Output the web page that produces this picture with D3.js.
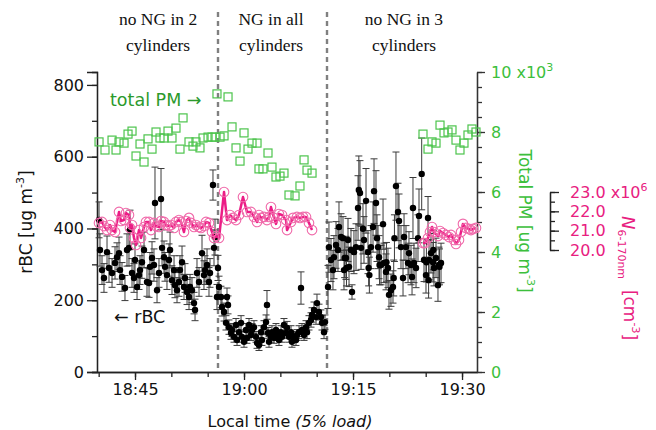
<!DOCTYPE html>
<html>
<head>
<meta charset="utf-8">
<script src="https://cdn.jsdelivr.net/npm/d3@7"></script>
<style>
  body { margin: 0; background: #fff; }
  svg { display: block; }
</style>
</head>
<body>
<svg id="chart" width="656" height="430"></svg>
<script>
// all times are minutes after 18:00 local time

// total PM, x10^3 ug m-3 (right axis)
var pmTime = [40.05, 40.87, 41.84, 42.39, 42.80, 43.49, 44.04, 44.59, 45.14, 45.69, 46.24, 46.79, 47.34, 47.89,
  48.44, 48.99, 49.54, 50.09, 50.64, 51.19, 51.61, 52.43, 52.98, 53.39, 53.94, 54.36, 55.05, 55.60, 56.01, 56.28,
  56.70, 57.25, 57.80, 58.35, 58.90, 59.45, 60.00, 60.55, 61.10, 61.79, 62.06, 62.61, 63.30, 63.85, 64.40, 64.95,
  65.50, 66.19, 67.02, 67.70, 68.26, 68.67, 69.36,
  84.63, 85.32, 85.87, 86.42, 86.97, 87.52, 88.07, 88.62, 89.17, 89.72, 90.27, 90.82, 91.37, 91.92];
var pmValue = [7.67, 7.40, 7.73, 7.40, 7.67, 7.63, 7.93, 8.03, 7.20, 7.60, 7.00, 7.77, 7.43, 8.00,
  7.80, 7.80, 8.03, 7.80, 8.13, 7.43, 8.47, 7.67, 7.53, 7.67, 7.47, 7.80, 7.83, 7.83, 7.83, 9.27,
  7.83, 7.87, 9.17, 8.17, 7.47, 7.03, 7.97, 7.43, 7.63, 7.63, 6.77, 6.77, 7.30, 6.83, 6.50, 6.53,
  6.63, 5.90, 5.87, 6.20, 7.07, 6.73, 6.63,
  7.93, 7.43, 7.67, 7.63, 8.23, 7.97, 8.00, 8.07, 7.73, 7.40, 7.63, 7.90, 8.10, 8.00];

// N 6-170nm, x10^6 cm-3 (null = no data)
var nTime = [40.05, 40.46, 40.73, 41.15, 41.56, 41.84, 42.25, 42.80, 43.07, 43.49, 43.76, 44.17, 44.31, 44.59,
  44.86, 45.14, 45.55, 45.83, 46.24, 46.51, 46.93, 47.20, 47.61, 47.89, 48.30, 48.58, 48.99, 49.27, 49.68, 49.95,
  50.37, 50.64, 51.05, 51.33, 51.74, 52.02, 52.43, 52.71, 53.12, 53.39, 53.81, 54.08, 54.49, 54.77, 55.18, 55.60,
  55.87, 56.15, 56.56,
  57.25, 57.66, 58.07, 58.49, 58.90, 59.31, 59.86, 60.41, 60.96, 61.37, 61.79, 62.06, 62.34, 62.75, 63.16, 63.44,
  63.71, 64.13, 64.40, 64.81, 65.23, 65.78, 65.92, 66.47, 66.74, 67.29, 67.70, 68.12, 68.53, 68.94, 69.36,
  77.0,
  84.63, 84.90, 85.32, 85.59, 85.87, 86.14, 86.69, 86.97, 87.38, 87.79, 88.21, 88.48, 88.89, 89.17, 89.58, 89.86,
  90.13, 90.55, 90.96, 91.23, 91.51, 91.92];
var nValue = [21.40, 21.45, 21.24, 21.03, 21.29, 21.03, 20.93, 21.97, 21.50, 21.55, 21.91, 21.81, 21.14, 21.29,
  20.62, 20.26, 21.03, 20.62, 21.19, 21.45, 21.45, 21.03, 21.40, 21.24, 21.19, 21.50, 21.45, 21.29, 21.24, 21.29,
  21.14, 21.45, 21.55, 21.45, 20.93, 21.50, 21.66, 21.40, 21.19, 21.29, 21.19, 21.14, 21.24, 21.45, 21.40, 20.93,
  20.62, 20.72, 20.62,
  23.00, 21.55, 21.81, 21.66, 21.55, 21.81, 22.74, 21.97, 21.97, 21.71, 21.45, 21.81, 21.66, 21.71, 21.55, 21.71,
  22.22, 21.66, 21.35, 21.86, 21.81, 21.55, 21.03, 21.45, 21.66, 21.71, 21.66, 21.71, 21.71, 21.40, 21.03,
  null,
  20.36, 20.36, 20.62, 20.93, 21.19, 20.93, 20.72, 20.98, 20.88, 20.78, 20.67, 20.78, 20.52, 20.31, 20.52, 20.93,
  21.35, 21.14, 21.09, 21.03, 21.09, 21.14];

// rBC, ug m-3 (left axis) with error
var rbcTime = [40.05, 40.18, 40.46, 40.73, 41.15, 41.42, 41.84, 42.25, 42.52, 42.80, 42.94, 43.21, 43.62, 43.90,
  44.17, 44.31, 44.59, 44.86, 45.00, 45.28, 45.55, 45.69, 45.96, 46.24, 46.65, 46.93, 47.06, 47.34, 47.61, 47.75,
  48.03, 48.30, 48.58, 48.72, 48.99, 49.13, 49.40, 49.68, 49.82, 50.09, 50.37, 50.50, 50.78, 51.05, 51.19, 51.47,
  51.74, 51.88, 52.16, 52.43, 52.57, 52.84, 53.12, 53.26, 53.53, 53.81, 54.22, 54.49, 54.63, 54.91, 55.18, 55.32,
  55.73, 55.87, 56.01, 56.28,
  56.42, 56.56, 56.83, 56.97, 57.25, 57.52, 57.66, 57.80, 57.93, 58.21, 58.35, 58.62, 58.90, 59.04, 59.31, 59.59,
  59.72, 60.00, 60.27, 60.41, 60.69, 60.96, 61.10, 61.37, 61.65, 61.79, 62.06, 62.34, 62.47, 62.75, 63.03, 63.16,
  63.30, 63.44, 63.71, 63.85, 64.13, 64.40, 64.54, 64.81, 65.09, 65.23, 65.50, 65.78, 65.92, 66.19, 66.47, 66.60,
  66.88, 67.15, 67.29, 67.57, 67.84, 67.98, 68.26, 68.53, 68.67, 68.94, 69.22, 69.36, 69.63, 69.91, 70.04, 70.32,
  70.59, 70.73, 71.01, 71.14,
  71.56, 71.69, 71.97, 72.24, 72.38, 72.66, 72.93, 73.07, 73.35, 73.62, 73.76, 73.85, 74.03, 74.10, 74.31, 74.45,
  74.72, 74.86, 75.13, 75.41, 75.69, 75.80, 75.96, 76.10, 76.37, 76.51, 76.79, 77.06, 77.15, 77.25, 77.47, 77.75,
  77.89, 78.16, 78.30, 78.44, 78.58, 78.65, 78.85, 79.13, 79.26, 79.54, 79.60, 79.81, 79.95, 80.22, 80.50, 80.60,
  80.70, 80.91, 81.19, 81.33, 81.60, 81.88, 82.02, 82.29, 82.57, 82.70, 82.98, 83.12, 83.25, 83.39, 83.67, 83.94,
  84.08, 84.45, 84.77, 85.04, 85.10, 85.32, 85.40, 85.46, 85.73, 86.01, 86.05, 86.14, 86.42, 86.69, 86.83, 86.90,
  87.11];
var rbcValue = [424, 340, 284, 262, 334, 290, 276, 304, 320, 331, 284, 265, 234, 340,
  346, 396, 276, 262, 312, 237, 270, 284, 306, 340, 251, 248, 293, 318, 298, 471,
  228, 276, 482, 346, 320, 293, 270, 312, 340, 256, 284, 242, 228, 251, 284, 306,
  237, 262, 223, 209, 237, 228, 192, 173, 276, 251, 331, 270, 284, 298, 251, 276,
  521, 346, 376, 209,
  290, 237, 209, 181, 167, 137, 209, 187, 125, 109, 117, 98, 131, 89, 111, 137,
  98, 84, 117, 95, 131, 103, 117, 125, 98, 81, 75, 111, 89, 125, 139, 187,
  109, 84, 98, 111, 95, 117, 103, 89, 111, 98, 131, 109, 123, 98, 111, 84,
  98, 89, 103, 111, 234, 117, 103, 125, 111, 137, 145, 159, 173, 153, 192, 167,
  153, 137, 111, 139,
  237, 348, 312, 284, 320, 354, 340, 404, 376, 373, 284, 318, 318, 290, 368, 293,
  340, 223, 334, 348, 457, 507, 499, 346, 399, 368, 477, 334, 290, 270, 348, 404,
  504, 471, 373, 348, 320, 298, 298, 412, 304, 279, 306, 290, 215, 228, 237, 262,
  373, 518, 446, 421, 348, 262, 376, 348, 304, 331, 298, 265, 457, 304, 290, 373,
  435, 552, 312, 270, 306, 429, 256, 312, 331, 306, 340, 290, 318, 242, 298, 293,
  304];
var rbcErr = [50, 45, 40, 40, 45, 40, 40, 45, 40, 45, 40, 40, 35, 45,
  50, 55, 40, 40, 45, 35, 40, 40, 45, 50, 40, 40, 40, 45, 45, 100,
  35, 40, 85, 50, 45, 40, 40, 45, 50, 40, 40, 35, 35, 40, 40, 45,
  35, 40, 35, 35, 35, 35, 30, 30, 40, 40, 50, 40, 40, 45, 40, 40,
  42, 50, 50, 35,
  35, 30, 30, 25, 25, 20, 25, 25, 20, 18, 18, 15, 18, 15, 18, 20,
  15, 15, 18, 15, 18, 15, 18, 18, 15, 15, 15, 18, 15, 18, 20, 40,
  15, 15, 15, 18, 15, 18, 15, 15, 18, 15, 18, 15, 18, 15, 18, 15,
  15, 15, 15, 18, 45, 18, 15, 18, 18, 20, 20, 20, 22, 20, 25, 22,
  20, 20, 18, 20,
  60, 70, 60, 55, 60, 65, 60, 70, 65, 60, 55, 55, 60, 50, 60, 55,
  60, 20, 60, 65, 90, 95, 90, 60, 70, 65, 90, 60, 50, 50, 60, 70,
  90, 90, 65, 60, 60, 55, 55, 70, 55, 50, 55, 55, 40, 45, 45, 50,
  65, 95, 80, 75, 60, 50, 65, 60, 55, 60, 55, 50, 85, 55, 55, 65,
  75, 100, 60, 50, 55, 60, 50, 55, 55, 55, 55, 50, 55, 45, 50, 50,
  55];

// engine phases
var phaseBreaks = [56.42, 71.42];
var phaseCenters = [48.17, 63.71, 82.01];
var phaseLabels = [["no NG in 2", "cylinders"], ["NG in all", "cylinders"], ["no NG in 3", "cylinders"]];

var base = new Date(2000, 0, 1, 18, 0, 0);
function toDate(m) { return new Date(base.getTime() + m * 60000); }

var svg = d3.select("#chart");
var sans = "DejaVu Sans, sans-serif";
var pink = "#e8207f";
var green = "#3cbf3c";

var x = d3.scaleTime()
    .domain([toDate(39.77), toDate(92.06)])
    .range([97, 477]);
var yL = d3.scaleLinear().domain([0, 836]).range([372, 72]);
var yR = d3.scaleLinear().domain([0, 10]).range([372, 72]);
var yN = d3.scaleLinear().domain([20, 23]).range([250, 192]);

// phase separators
svg.selectAll("line.phase")
  .data(phaseBreaks)
  .enter().append("line")
    .attr("class", "phase")
    .attr("x1", function(d) { return x(toDate(d)); })
    .attr("x2", function(d) { return x(toDate(d)); })
    .attr("y1", 12)
    .attr("y2", 372)
    .attr("stroke", "#808080")
    .attr("stroke-width", 2.4)
    .attr("stroke-dasharray", "5,4");

// phase labels
phaseLabels.forEach(function(lines, i) {
  var t = svg.append("text")
    .attr("x", x(toDate(phaseCenters[i])))
    .attr("text-anchor", "middle")
    .attr("font-family", "Liberation Serif, serif")
    .attr("font-size", 17.5)
    .attr("fill", "#111");
  t.append("tspan").attr("x", x(toDate(phaseCenters[i]))).attr("y", 25).text(lines[0]);
  t.append("tspan").attr("x", x(toDate(phaseCenters[i]))).attr("y", 51).text(lines[1]);
});

// axes
function styleAxis(g, color, labelColor) {
  g.selectAll("path, line").attr("stroke", color).attr("stroke-width", 1.3);
  g.selectAll("text").attr("fill", labelColor);
  g.attr("font-family", sans).attr("font-size", 16);
}

// left
svg.append("g")
   .attr("transform", "translate(97,0)")
   .call(d3.axisLeft(yL).tickValues(d3.range(0, 801, 100)).tickSize(5).tickFormat(""))
   .call(styleAxis, "#222", "#111");
svg.append("g")
   .attr("transform", "translate(97,0)")
   .call(d3.axisLeft(yL).tickValues([0, 200, 400, 600, 800]).tickSize(10).tickPadding(3))
   .call(styleAxis, "#222", "#111");

// bottom
var minorTimes = d3.range(40, 92, 5).map(toDate);
var majorTimes = [45, 60, 75, 90].map(toDate);
svg.append("g")
   .attr("transform", "translate(0,372)")
   .call(d3.axisBottom(x).tickValues(minorTimes).tickSize(5).tickFormat("").tickSizeOuter(0))
   .call(styleAxis, "#222", "#111");
svg.append("g")
   .attr("transform", "translate(0,372)")
   .call(d3.axisBottom(x).tickValues(majorTimes).tickSize(8).tickSizeOuter(0).tickPadding(4)
     .tickFormat(d3.timeFormat("%H:%M")))
   .call(styleAxis, "#222", "#111");

// right, total PM
svg.append("g")
   .attr("transform", "translate(477,0)")
   .call(d3.axisRight(yR).tickValues(d3.range(0, 10.01, 0.5)).tickSize(5).tickFormat("").tickSizeOuter(0))
   .call(styleAxis, "#333", green);
var pmAxis = svg.append("g")
   .attr("transform", "translate(477,0)")
   .call(d3.axisRight(yR).tickValues([0, 2, 4, 6, 8, 10]).tickSize(8).tickPadding(6).tickSizeOuter(0))
   .call(styleAxis, "#333", green);
pmAxis.selectAll(".tick text").filter(function(d) { return d === 10; })
  .each(function() {
    var t = d3.select(this).text("10 x10");
    t.append("tspan").attr("font-size", 11).attr("dy", "-0.6em").text("3");
  });

// right, N 6-170nm
svg.append("g")
   .attr("transform", "translate(550,0)")
   .call(d3.axisRight(yN).tickValues(d3.range(20, 23.01, 0.5)).tickSize(5).tickFormat("").tickSizeOuter(0))
   .call(styleAxis, "#222", pink);
var nAxis = svg.append("g")
   .attr("transform", "translate(550,0)")
   .call(d3.axisRight(yN).tickValues([20, 21, 22, 23]).tickSize(9).tickPadding(11).tickSizeOuter(0)
     .tickFormat(d3.format(".1f")))
   .call(styleAxis, "#222", pink);
nAxis.selectAll(".tick text").filter(function(d) { return d === 23; })
  .each(function() {
    var t = d3.select(this).text("23.0 x10");
    t.append("tspan").attr("font-size", 11).attr("dy", "-0.6em").text("6");
  });

// axis titles
var lt = svg.append("text")
  .attr("transform", "translate(32,222) rotate(-90)")
  .attr("text-anchor", "middle")
  .attr("font-family", sans).attr("font-size", 17).attr("fill", "#111");
lt.append("tspan").text("rBC [ug m");
lt.append("tspan").attr("font-size", 11).attr("dy", "-0.7em").text("-3");
lt.append("tspan").attr("dy", "0.45em").text("]");

var rt = svg.append("text")
  .attr("transform", "translate(519,221) rotate(90)")
  .attr("text-anchor", "middle")
  .attr("font-family", sans).attr("font-size", 17).attr("fill", green);
rt.append("tspan").text("Total PM [ug m");
rt.append("tspan").attr("font-size", 11).attr("dy", "-0.7em").text("-3");
rt.append("tspan").attr("dy", "0.45em").text("]");

var nt = svg.append("text")
  .attr("transform", "translate(622,278) rotate(90)")
  .attr("text-anchor", "middle")
  .attr("font-family", sans).attr("font-size", 17).attr("fill", pink);
nt.append("tspan").attr("font-style", "italic").attr("font-size", 18).text("N");
nt.append("tspan").attr("font-size", 11).attr("dy", "0.35em").text("6-170nm");
nt.append("tspan").attr("dy", "-0.35em").text("\u00a0\u00a0[cm");
nt.append("tspan").attr("font-size", 11).attr("dy", "-0.7em").text("-3");
nt.append("tspan").attr("dy", "0.45em").text("]");

var xt = svg.append("text")
  .attr("x", 290).attr("y", 427)
  .attr("text-anchor", "middle")
  .attr("font-family", sans).attr("font-size", 16).attr("fill", "#111");
xt.append("tspan").text("Local time ");
xt.append("tspan").attr("font-style", "italic").text("(5% load)");

// rBC points with error bars
var rbc = rbcTime.map(function(t, i) {
  return { t: toDate(t), v: rbcValue[i], e: rbcErr[i] };
});
var eb = svg.append("g").attr("stroke", "#3a3a3a").attr("stroke-width", 1);
eb.selectAll("line.bar").data(rbc).enter().append("line")
  .attr("x1", function(d) { return x(d.t); })
  .attr("x2", function(d) { return x(d.t); })
  .attr("y1", function(d) { return yL(d.v - d.e); })
  .attr("y2", function(d) { return yL(d.v + d.e); });
eb.selectAll("line.capTop").data(rbc).enter().append("line")
  .attr("x1", function(d) { return x(d.t) - 3.5; })
  .attr("x2", function(d) { return x(d.t) + 3.5; })
  .attr("y1", function(d) { return yL(d.v + d.e); })
  .attr("y2", function(d) { return yL(d.v + d.e); });
eb.selectAll("line.capBot").data(rbc).enter().append("line")
  .attr("x1", function(d) { return x(d.t) - 3.5; })
  .attr("x2", function(d) { return x(d.t) + 3.5; })
  .attr("y1", function(d) { return yL(d.v - d.e); })
  .attr("y2", function(d) { return yL(d.v - d.e); });
svg.append("g").selectAll("circle").data(rbc).enter().append("circle")
  .attr("cx", function(d) { return x(d.t); })
  .attr("cy", function(d) { return yL(d.v); })
  .attr("r", 3.2)
  .attr("fill", "#000");

// N line
var nData = nTime.map(function(t, i) { return { t: toDate(t), v: nValue[i] }; });
var nLine = d3.line()
  .defined(function(d) { return d.v !== null; })
  .x(function(d) { return x(d.t); })
  .y(function(d) { return yN(d.v); });
svg.append("path")
  .datum(nData)
  .attr("d", nLine)
  .attr("fill", "none")
  .attr("stroke", "#ec1c86")
  .attr("stroke-width", 2.5)
  .attr("stroke-linejoin", "round");
svg.append("g").selectAll("circle")
  .data(nData.filter(function(d) { return d.v !== null; }))
  .enter().append("circle")
    .attr("cx", function(d) { return x(d.t); })
    .attr("cy", function(d) { return yN(d.v); })
    .attr("r", 4.8)
    .attr("fill", "none")
    .attr("stroke", "#f06aaa")
    .attr("stroke-width", 1.1);

// total PM squares
var pm = pmTime.map(function(t, i) { return { t: toDate(t), v: pmValue[i] }; });
svg.append("g").selectAll("rect").data(pm).enter().append("rect")
  .attr("x", function(d) { return x(d.t) - 4; })
  .attr("y", function(d) { return yR(d.v) - 4; })
  .attr("width", 8)
  .attr("height", 8)
  .attr("fill", "none")
  .attr("stroke", "#4cc44c")
  .attr("stroke-width", 1.2);

// annotations
svg.append("text")
  .attr("x", 110).attr("y", 106)
  .attr("font-family", sans).attr("font-size", 17.5).attr("fill", "#2c9a2c")
  .text("total PM \u2192");
svg.append("text")
  .attr("x", 114).attr("y", 323)
  .attr("font-family", sans).attr("font-size", 17.5).attr("fill", "#111")
  .text("\u2190 rBC");
</script>
</body>
</html>
